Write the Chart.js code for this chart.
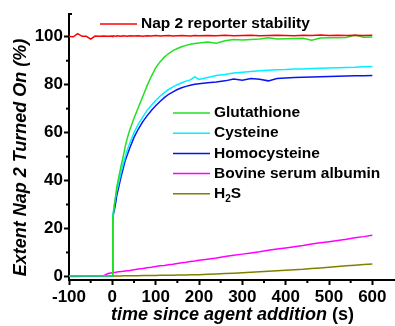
<!DOCTYPE html>
<html>
<head>
<meta charset="utf-8">
<script src="https://cdn.jsdelivr.net/npm/chart.js@4.4.0/dist/chart.umd.min.js"></script>
<style>
  html, body { margin: 0; padding: 0; background: #fff; }
  canvas { display: block; }
</style>
</head>
<body>
<canvas id="kinetics" width="395" height="326"></canvas>
<script>
// time (s) sampled from the figure
var times = [-100,-90,-80,-70,-60,-50,-40,-30,-20,-10,
  0,1,3,5,8,10,15,20,25,30,35,40,
  50,60,70,80,90,100,110,120,130,140,150,160,170,180,190,200,
  220,240,260,280,300,320,340,360,380,400,420,440,460,480,500,520,540,560,580,600];

var reporter = [100.1,100.0,101.3,100.2,100.2,99.0,100.3,100.2,100.3,100.2,
  100.3,100.2,100.4,100.3,100.2,100.4,100.3,100.2,100.4,100.3,100.2,100.4,
  100.3,100.4,100.2,100.4,100.3,100.5,100.3,100.4,100.5,100.3,100.4,100.5,100.4,100.3,100.5,100.4,
  100.5,100.4,100.6,100.4,100.5,100.6,100.4,100.5,100.6,100.5,100.4,100.6,100.5,100.7,100.5,100.6,100.5,100.6,100.5,100.6];

var glutathione = [0.3,0.3,0.3,0.3,0.3,0.3,0.3,0.3,0.3,0.3,
  0.3,24,27,30,34,37,41.5,46,50,54.5,58,61,
  66,70.5,75,79.5,83.5,87,89.5,91.5,93,94.2,95.1,95.8,96.4,96.9,97.2,97.4,
  97.8,97.3,98.3,98.9,98.7,98.9,99.1,99.6,99.1,99.2,99.3,99.4,98.6,99.5,99.6,99.6,99.7,100.7,99.8,99.9];

var cysteine = [0.3,0.3,0.3,0.3,0.3,0.3,0.3,0.3,0.3,0.3,
  0.3,25,28,30.5,33.5,35.5,39.5,43.5,47,50,53,55.5,
  60,63.5,66.5,69.2,71.4,73.4,75.2,76.7,78,79.1,80,80.8,81.5,82,83.3,82.2,
  83,83.8,84.3,84.9,85.2,85.5,85.8,86,86.2,86.3,86.5,86.6,86.8,86.9,87,87.1,87.2,87.3,87.5,87.6];

var homocysteine = [0.3,0.3,0.3,0.3,0.3,0.3,0.3,0.3,0.3,0.3,
  0.3,24,26.5,28,31,33.5,37.5,41.5,45,48.5,51,53.5,
  58,61.5,64.5,67,69.2,71.2,73,74.6,76,77,78,78.7,79.3,79.8,80.2,80.4,
  80.8,81.1,81.6,82.4,81.9,82.6,82.3,81.6,82.6,82.8,83,83.1,83.2,83.3,83.4,83.5,83.6,83.7,83.7,83.8];

var bsa = [0.3,0.3,0.3,0.3,0.3,0.3,0.3,0.3,0.3,1.2,
  1.5,1.5,1.6,1.6,1.7,1.8,1.9,2.0,2.2,2.3,2.4,2.5,
  2.8,3.1,3.3,3.6,3.8,4.1,4.4,4.6,4.9,5.1,5.4,5.7,5.9,6.2,6.4,6.7,
  7.2,7.7,8.3,8.8,9.3,9.8,10.3,10.9,11.4,11.9,12.4,12.9,13.5,14.0,14.5,15.0,15.5,16.1,16.6,17.2];

var h2s = [0.0,0.0,0.0,0.1,0.1,0.1,0.1,0.1,0.2,0.2,
  0.2,0.2,0.2,0.2,0.2,0.2,0.2,0.2,0.3,0.3,0.3,0.3,
  0.3,0.3,0.4,0.4,0.4,0.4,0.5,0.5,0.5,0.5,0.6,0.6,0.6,0.7,0.7,0.7,
  0.85,1.0,1.2,1.35,1.55,1.75,1.95,2.15,2.4,2.6,2.8,3.0,3.3,3.55,3.8,4.1,4.4,4.7,4.95,5.15];

var labels = ['Nap 2 reporter stability', 'Glutathione', 'Cysteine', 'Homocysteine', 'Bovine serum albumin', 'H2S'];
var colors = ['#ff0000', '#22e022', '#00f0ff', '#0a14f0', '#ff00ff', '#808000'];
var series = [reporter, glutathione, cysteine, homocysteine, bsa, h2s];

var xTicks = [-100, 0, 100, 200, 300, 400, 500, 600];
var xMinor = [-50, 50, 150, 250, 350, 450, 550];
var yTicks = [0, 20, 40, 60, 80, 100];
var yMinor = [10, 30, 50, 70, 90];

var FAMILY = "'Liberation Sans', Arial, sans-serif";
Chart.defaults.font.family = FAMILY;
Chart.defaults.color = '#000';

function line(ctx, x1, y1, x2, y2) {
  ctx.beginPath(); ctx.moveTo(x1, y1); ctx.lineTo(x2, y2); ctx.stroke();
}

var extras = {
  id: 'extras',
  afterDraw: function (chart) {
    var ctx = chart.ctx, a = chart.chartArea;
    var x = chart.scales.x, y = chart.scales.y;
    ctx.save();
    ctx.strokeStyle = '#000';
    ctx.lineWidth = 2;
    xMinor.forEach(function (v) {
      var px = x.getPixelForValue(v);
      line(ctx, px, a.bottom, px, a.bottom + 3);
    });
    yMinor.forEach(function (v) {
      var py = y.getPixelForValue(v);
      line(ctx, a.left - 3, py, a.left, py);
    });
    line(ctx, a.left - 1, a.top, a.left + 3, a.top);

    // axis titles
    ctx.fillStyle = '#000';
    ctx.textBaseline = 'alphabetic';
    ctx.font = 'italic bold 18px ' + FAMILY;
    var t1 = 'time since agent addition ';
    var w1 = ctx.measureText(t1).width;
    ctx.font = 'bold 18px ' + FAMILY;
    var t2 = '(s)';
    var w2 = ctx.measureText(t2).width;
    var sx = 232.5 - (w1 + w2) / 2;
    ctx.font = 'italic bold 18px ' + FAMILY;
    ctx.textAlign = 'left';
    ctx.fillText(t1, sx, 320);
    ctx.font = 'bold 18px ' + FAMILY;
    ctx.fillText(t2, sx + w1, 320);

    ctx.save();
    ctx.translate(26, 157.5);
    ctx.rotate(-Math.PI / 2);
    ctx.font = 'italic bold 18px ' + FAMILY;
    ctx.textAlign = 'center';
    ctx.fillText('Extent Nap 2 Turned On (%)', 0, 0);
    ctx.restore();

    // legends
    ctx.lineWidth = 1.5;
    ctx.textBaseline = 'middle';
    ctx.textAlign = 'left';
    ctx.font = 'bold 15.5px ' + FAMILY;
    var ds = chart.data.datasets;
    function entry(i, lx, ly) {
      ctx.strokeStyle = ds[i].borderColor;
      line(ctx, lx, ly, lx + 37, ly);
      var tx = lx + 41;
      var lab = ds[i].label;
      if (lab === 'H2S') {
        ctx.fillText('H', tx, ly);
        var wh = ctx.measureText('H').width;
        ctx.font = 'bold 10px ' + FAMILY;
        ctx.fillText('2', tx + wh, ly + 5);
        var w2s = ctx.measureText('2').width;
        ctx.font = 'bold 15.5px ' + FAMILY;
        ctx.fillText('S', tx + wh + w2s, ly);
      } else {
        ctx.fillText(lab, tx, ly);
      }
    }
    entry(0, 100, 24);
    for (var i = 1; i < ds.length; i++) {
      entry(i, 173, 113 + (i - 1) * 20.2);
    }
    ctx.restore();
  }
};

var datasets = series.map(function (vals, i) {
  return {
    label: labels[i],
    data: times.map(function (t, k) { return { x: t, y: vals[k] }; }),
    borderColor: colors[i],
    backgroundColor: colors[i],
    borderWidth: 1.5,
    pointRadius: 0,
    tension: 0,
    fill: false
  };
});

var ctx = document.getElementById('kinetics').getContext('2d');
var chart = new Chart(ctx, {
  type: 'line',
  data: { datasets: datasets },
  options: {
    responsive: false,
    animation: false,
    devicePixelRatio: 1,
    layout: { padding: { left: 0, top: 14, right: 1, bottom: 0 } },
    plugins: {
      legend: { display: false },
      title: { display: false },
      tooltip: { enabled: false }
    },
    scales: {
      x: {
        type: 'linear',
        min: -100,
        max: 650,
        afterFit: function (s) { s.height = 46; },
        afterBuildTicks: function (s) { s.ticks = xTicks.map(function (v) { return { value: v }; }); },
        ticks: { font: { size: 17, weight: 'bold' }, color: '#000', padding: 2, maxRotation: 0, autoSkip: false },
        grid: { display: true, drawOnChartArea: false, drawTicks: true, tickLength: 5, tickColor: '#000', tickWidth: 2 },
        border: { display: true, color: '#000', width: 2 }
      },
      y: {
        type: 'linear',
        min: -1.5,
        max: 109.5,
        afterFit: function (s) { s.width = 69; },
        afterBuildTicks: function (s) { s.ticks = yTicks.map(function (v) { return { value: v }; }); },
        ticks: { font: { size: 17, weight: 'bold' }, color: '#000', padding: 1 },
        grid: { display: true, drawOnChartArea: false, drawTicks: true, tickLength: 5, tickColor: '#000', tickWidth: 2 },
        border: { display: true, color: '#000', width: 2 }
      }
    }
  },
  plugins: [extras]
});
</script>
</body>
</html>
